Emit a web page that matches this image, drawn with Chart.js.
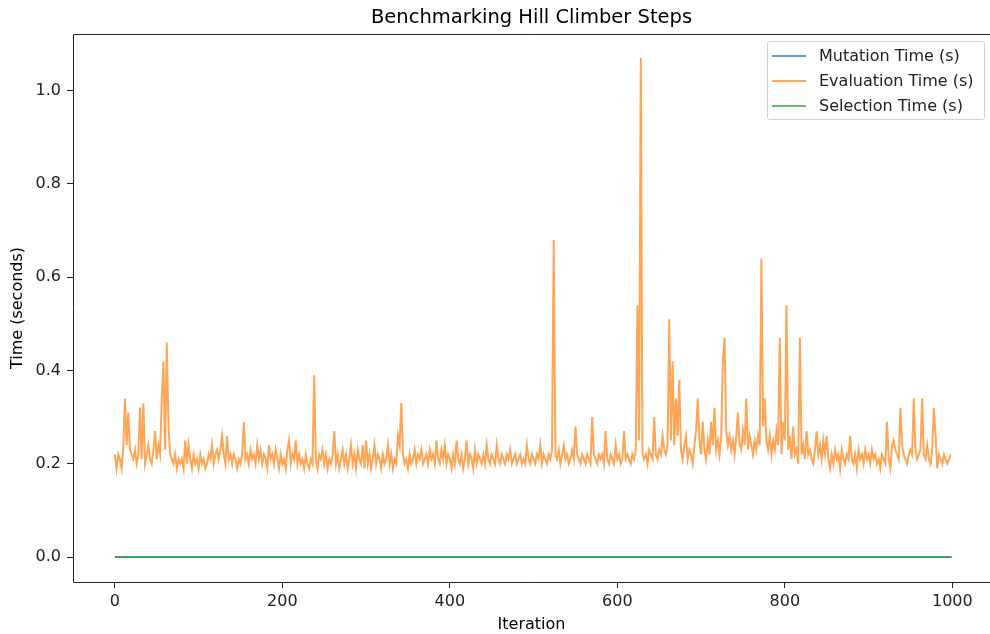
<!DOCTYPE html>
<html>
<head>
<meta charset="utf-8">
<script src="https://cdn.jsdelivr.net/npm/chart.js@4.4.1/dist/chart.umd.min.js"></script>
<style>
    html, body { margin: 0; padding: 0; background: #fff; }
    #wrap { position: relative; width: 990px; height: 634px; }
    #legend {
        position: absolute; left: 767px; top: 41px; width: 216px; height: 77px;
        border: 1px solid #d0d0d0; border-radius: 3px; background: rgba(255,255,255,0.8);
        font-family: 'DejaVu Sans', sans-serif; font-size: 16px; color: #222;
    }
    .leg-row { height: 25px; display: flex; align-items: center; padding-left: 4px; }
    .leg-row:first-child { margin-top: 1px; }
    .leg-swatch { width: 34px; height: 2px; margin-right: 13px; }
</style>
</head>
<body>
<div id="wrap">
    <canvas id="hcChart" width="990" height="634"></canvas>
    <div id="legend"></div>
</div>
<script>
const evaluationTimes = [
    0.22,0.19,0.22,0.21,0.19,0.23,0.34,0.24,0.31,0.23,
    0.22,0.21,0.23,0.20,0.22,0.32,0.21,0.33,0.20,0.22,
    0.24,0.21,0.20,0.23,0.27,0.21,0.24,0.22,0.34,0.42,
    0.23,0.46,0.28,0.22,0.21,0.20,0.22,0.19,0.21,0.20,
    0.21,0.19,0.25,0.20,0.24,0.21,0.19,0.22,0.20,0.21,
    0.19,0.22,0.20,0.21,0.19,0.20,0.22,0.21,0.24,0.20,
    0.22,0.23,0.21,0.23,0.26,0.22,0.20,0.26,0.21,0.22,
    0.20,0.22,0.21,0.19,0.21,0.20,0.22,0.29,0.21,0.22,
    0.20,0.23,0.21,0.22,0.20,0.24,0.21,0.23,0.20,0.22,
    0.21,0.19,0.24,0.21,0.22,0.20,0.23,0.21,0.19,0.22,
    0.20,0.21,0.19,0.23,0.25,0.20,0.22,0.21,0.25,0.20,
    0.22,0.20,0.21,0.19,0.22,0.20,0.19,0.21,0.20,0.39,
    0.21,0.19,0.22,0.21,0.23,0.20,0.22,0.19,0.21,0.20,
    0.22,0.27,0.20,0.22,0.19,0.21,0.23,0.20,0.22,0.19,
    0.21,0.24,0.20,0.22,0.19,0.23,0.21,0.20,0.24,0.19,
    0.25,0.20,0.22,0.19,0.21,0.24,0.20,0.22,0.21,0.19,
    0.22,0.20,0.21,0.24,0.20,0.22,0.19,0.21,0.20,0.26,
    0.24,0.33,0.22,0.20,0.21,0.19,0.22,0.20,0.21,0.23,
    0.20,0.22,0.21,0.23,0.20,0.21,0.22,0.20,0.23,0.21,
    0.22,0.20,0.25,0.21,0.20,0.23,0.21,0.24,0.20,0.22,
    0.21,0.19,0.22,0.20,0.25,0.21,0.20,0.22,0.19,0.21,
    0.25,0.20,0.22,0.21,0.19,0.23,0.20,0.22,0.21,0.20,
    0.22,0.20,0.24,0.21,0.20,0.22,0.21,0.20,0.24,0.21,
    0.20,0.22,0.21,0.20,0.22,0.21,0.23,0.20,0.21,0.22,
    0.20,0.21,0.22,0.20,0.21,0.20,0.24,0.21,0.20,0.22,
    0.21,0.20,0.22,0.21,0.24,0.20,0.22,0.21,0.20,0.22,
    0.21,0.23,0.68,0.22,0.21,0.23,0.20,0.22,0.24,0.21,
    0.22,0.20,0.21,0.23,0.21,0.28,0.22,0.21,0.20,0.22,
    0.21,0.20,0.22,0.21,0.20,0.30,0.22,0.21,0.20,0.22,
    0.21,0.22,0.20,0.27,0.21,0.20,0.22,0.21,0.20,0.24,
    0.21,0.22,0.20,0.21,0.27,0.21,0.22,0.21,0.20,0.22,
    0.21,0.23,0.54,0.25,1.07,0.22,0.21,0.22,0.20,0.23,
    0.22,0.21,0.30,0.22,0.21,0.23,0.22,0.26,0.23,0.22,
    0.24,0.51,0.25,0.42,0.24,0.34,0.26,0.38,0.23,0.21,
    0.24,0.26,0.21,0.23,0.22,0.20,0.24,0.27,0.34,0.25,
    0.22,0.29,0.23,0.21,0.25,0.22,0.29,0.24,0.32,0.23,
    0.25,0.22,0.26,0.42,0.47,0.27,0.24,0.26,0.23,0.25,
    0.22,0.26,0.31,0.24,0.23,0.27,0.24,0.34,0.23,0.26,
    0.24,0.22,0.25,0.23,0.26,0.24,0.64,0.28,0.34,0.25,
    0.23,0.26,0.22,0.25,0.23,0.27,0.24,0.47,0.22,0.29,
    0.25,0.54,0.23,0.26,0.21,0.28,0.22,0.23,0.20,0.47,
    0.22,0.24,0.21,0.27,0.22,0.23,0.21,0.20,0.23,0.27,
    0.22,0.24,0.21,0.25,0.22,0.26,0.21,0.19,0.22,0.20,
    0.23,0.21,0.22,0.19,0.23,0.21,0.20,0.22,0.21,0.26,
    0.21,0.20,0.22,0.19,0.23,0.21,0.22,0.20,0.23,0.21,
    0.22,0.20,0.23,0.21,0.22,0.20,0.21,0.19,0.22,0.21,
    0.20,0.29,0.21,0.19,0.24,0.25,0.23,0.22,0.21,0.32,
    0.24,0.22,0.21,0.20,0.22,0.23,0.22,0.34,0.23,0.21,
    0.22,0.23,0.34,0.22,0.21,0.24,0.21,0.20,0.23,0.32,
    0.26,0.19,0.22,0.21,0.20,0.22,0.21,0.20,0.21,0.22
];
const SAMPLE_STEP = 2;
const evalIterations = evaluationTimes.map((_, i) => i * SAMPLE_STEP);

// Mutation and selection are flat at ~0 for the whole run
const flatIterations = [0, 250, 500, 750, 999];
const mutationTimes = [0.0004, 0.0004, 0.0004, 0.0004, 0.0004];
const selectionTimes = [0.0002, 0.0002, 0.0002, 0.0002, 0.0002];

const xTicks = [0, 200, 400, 600, 800, 1000];
const yTicks = [0.0, 0.2, 0.4, 0.6, 0.8, 1.0];

const seriesNames = ['Mutation Time (s)', 'Evaluation Time (s)', 'Selection Time (s)'];
const seriesColors = ['rgba(31,119,180,0.7)', 'rgba(255,127,14,0.7)', 'rgba(44,160,44,0.7)'];

const toPoints = (xs, ys) => xs.map((x, i) => ({ x: x, y: ys[i] }));

const FONT = "'DejaVu Sans', sans-serif";

// left, top and bottom spines (the right one falls just outside the picture)
const framePlugin = {
    id: 'frame',
    afterDraw(chart) {
        const { ctx, chartArea: a } = chart;
        const l = Math.round(a.left) + 0.5, t = Math.round(a.top) + 0.5, b = Math.round(a.bottom) + 0.5;
        ctx.save();
        ctx.strokeStyle = '#222';
        ctx.lineWidth = 1;
        ctx.beginPath();
        ctx.moveTo(chart.width, t);
        ctx.lineTo(l, t);
        ctx.lineTo(l, b);
        ctx.lineTo(chart.width, b);
        ctx.stroke();
        ctx.restore();
    }
};

const chart = new Chart(document.getElementById('hcChart'), {
    type: 'line',
    data: {
        datasets: [
            { label: seriesNames[0], data: toPoints(flatIterations, mutationTimes), borderColor: seriesColors[0], order: 2 },
            { label: seriesNames[1], data: toPoints(evalIterations, evaluationTimes), borderColor: seriesColors[1], order: 1 },
            { label: seriesNames[2], data: toPoints(flatIterations, selectionTimes), borderColor: seriesColors[2], order: 0 }
        ]
    },
    options: {
        responsive: false,
        animation: false,
        layout: { padding: 0 },
        elements: {
            line: { borderWidth: 2, tension: 0 },
            point: { radius: 0, hoverRadius: 0 }
        },
        plugins: {
            legend: { display: false },
            tooltip: { enabled: false },
            title: {
                display: true,
                fullSize: false,
                text: 'Benchmarking Hill Climber Steps',
                color: '#000',
                font: { family: FONT, size: 19.5, weight: 'normal' },
                padding: { top: 6, bottom: 4.6 }
            }
        },
        scales: {
            x: {
                type: 'linear',
                min: -50, max: 1045,
                afterBuildTicks: s => { s.ticks = xTicks.map(v => ({ value: v })); },
                afterFit: s => { s.height = 52; },
                border: { display: false },
                grid: { drawOnChartArea: false, drawTicks: true, tickLength: 6, color: '#222' },
                ticks: { color: '#222', padding: 4, font: { family: FONT, size: 16 }, callback: v => String(v) },
                title: { display: true, text: 'Iteration', color: '#000', font: { family: FONT, size: 16 }, padding: { top: 0, bottom: 0 } }
            },
            y: {
                type: 'linear',
                min: -0.0534, max: 1.1214,
                afterBuildTicks: s => { s.ticks = yTicks.map(v => ({ value: v })); },
                afterFit: s => { s.width = 73; },
                border: { display: false },
                grid: { drawOnChartArea: false, drawTicks: true, tickLength: 6, color: '#222' },
                ticks: { color: '#222', padding: 6, font: { family: FONT, size: 16 }, callback: v => Number(v).toFixed(1) },
                title: { display: true, text: 'Time (seconds)', color: '#000', font: { family: FONT, size: 16 }, padding: { top: 8, bottom: 0 } }
            }
        }
    },
    plugins: [framePlugin]
});

// legend inside the axes, upper right
const legendEl = document.getElementById('legend');
chart.data.datasets.forEach(ds => {
    const row = document.createElement('div');
    row.className = 'leg-row';
    row.innerHTML = `<span class="leg-swatch" style="background:${ds.borderColor}"></span><span>${ds.label}</span>`;
    legendEl.appendChild(row);
});
</script>
</body>
</html>
